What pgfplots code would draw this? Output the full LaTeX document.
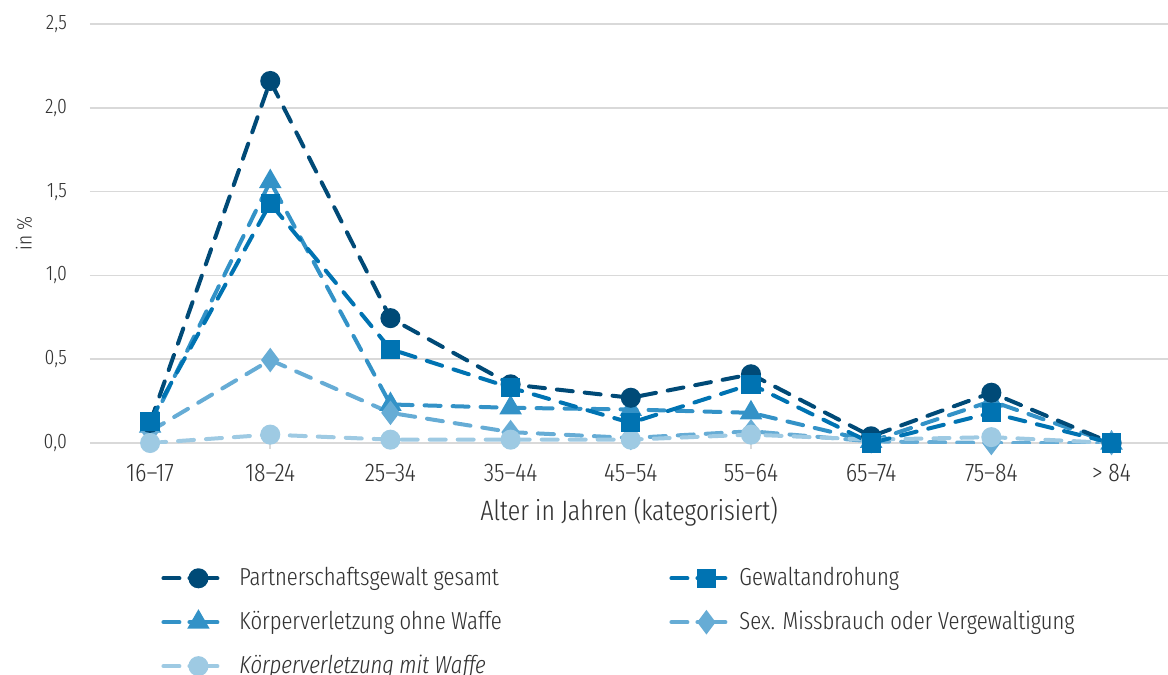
\documentclass[border=0pt]{standalone}
\usepackage{fontspec}
\IfFontExistsTF{Fira Sans Extra Condensed Light}
  {\setmainfont{Fira Sans Extra Condensed Light}}
  {\setmainfont{Fira Sans Condensed Light}}
\usepackage{pgfplots}
\pgfplotsset{compat=1.18}
\definecolor{c1}{HTML}{004A77}
\definecolor{c2}{HTML}{0073B2}
\definecolor{c3}{HTML}{3392C7}
\definecolor{c4}{HTML}{66ACD5}
\definecolor{c5}{HTML}{9ECAE3}
\definecolor{txt}{HTML}{333333}
\definecolor{grd}{HTML}{D9D9D9}
\begin{document}
\begin{tikzpicture}
\begin{axis}[
    scale only axis, width=539pt, height=209.5pt,
    xmin=-0.5, xmax=8.47, ymin=0, ymax=2.5,
    xtick={0,...,8},
    xticklabels={16--17,18--24,25--34,35--44,45--54,55--64,65--74,75--84,> 84},
    ytick={0,0.5,1,1.5,2,2.5},
    /pgf/number format/use comma,
    /pgf/number format/fixed,
    /pgf/number format/fixed zerofill,
    /pgf/number format/precision=1,
    /pgf/number format/assume math mode=true,
    axis line style={draw=none},
    ymajorgrids, grid style={grd, line width=0.8pt},
    xtick pos=left, tick align=outside, major tick length=3pt,
    xtick style={grd, line width=0.8pt}, ytick style={draw=none},
    font=\fontsize{12.3pt}{14pt}\selectfont, text=txt,
    yticklabel style={xshift=-5pt, font=\fontsize{10.5pt}{12pt}\selectfont},
    xticklabel style={yshift=-4pt, font=\fontsize{12.8pt}{14pt}\selectfont},
    xlabel={Alter in Jahren (kategorisiert)}, ylabel={in \%},
    xlabel style={yshift=-1pt, font=\fontsize{14pt}{16pt}\selectfont},
    ylabel style={yshift=-1pt, font=\fontsize{10.5pt}{12pt}\selectfont},
    every axis plot/.append style={line width=2pt, dash pattern=on 8pt off 6pt, line cap=round},
    legend columns=2,
    legend cell align=left,
    legend style={draw=none, at={(0.0659,-0.287)}, anchor=north west, inner sep=0pt,
        row sep=7.25pt, font=\fontsize{12.3pt}{14pt}\selectfont,
        nodes={inner xsep=6pt}},
    legend image code/.code={
        \draw[#1, dash pattern=on 8pt off 5pt on 20pt off 0pt, mark repeat=2, mark phase=2]
            plot coordinates {(1pt,0pt) (18.5pt,0pt) (28pt,0pt)};},
]
% Koerperverletzung ohne Waffe
\addplot[c3, mark=triangle*, mark size=4.5pt, mark options={solid}, forget plot] coordinates {
 (0,0.10) (1,1.56) (2,0.23) (3,0.21) (4,0.20) (5,0.18) (6,0.01) (7,0.25) (8,0)};
% Sex. Missbrauch
\addplot[c4, mark=diamond*, mark size=4.5pt, mark options={solid}, forget plot] coordinates {
 (0,0.07) (1,0.495) (2,0.18) (3,0.065) (4,0.03) (5,0.07) (6,0.01) (7,0.0) (8,0)};
% Koerperverletzung mit Waffe
\addplot[c5, mark=*, mark size=4pt, mark options={solid}, forget plot] coordinates {
 (0,0.0) (1,0.05) (2,0.02) (3,0.02) (4,0.02) (5,0.05) (6,0.02) (7,0.035) (8,0)};
% Partnerschaftsgewalt gesamt
\addplot[c1, mark=*, mark size=4pt, mark options={solid}, forget plot] coordinates {
 (0,0.12) (1,2.16) (2,0.745) (3,0.35) (4,0.27) (5,0.41) (6,0.04) (7,0.30) (8,0)};
% Gewaltandrohung
\addplot[c2, mark=square*, mark size=3.8pt, mark options={solid}, forget plot] coordinates {
 (0,0.13) (1,1.43) (2,0.56) (3,0.33) (4,0.12) (5,0.35) (6,0.0) (7,0.18) (8,0)};

\addlegendimage{c1, mark=*, mark size=4pt, mark options={solid}}
\addlegendentry{\makebox[213pt][l]{\hspace{4pt}Partnerschaftsgewalt gesamt}}
\addlegendimage{c2, mark=square*, mark size=3.8pt, mark options={solid}}
\addlegendentry{Gewaltandrohung}
\addlegendimage{c3, mark=triangle*, mark size=4.5pt, mark options={solid}}
\addlegendentry{\makebox[213pt][l]{\hspace{4pt}Körperverletzung ohne Waffe}}
\addlegendimage{c4, mark=diamond*, mark size=4.5pt, mark options={solid}}
\addlegendentry{Sex. Missbrauch oder Vergewaltigung}
\addlegendimage{c5, mark=*, mark size=4pt, mark options={solid}}
\addlegendentry{\makebox[213pt][l]{\hspace{4pt}\itshape Körperverletzung mit Waffe}}
\end{axis}
\pgfresetboundingbox
\path[use as bounding box] (-45pt,-116pt) rectangle (539pt,221.5pt);
\end{tikzpicture}
\end{document}
